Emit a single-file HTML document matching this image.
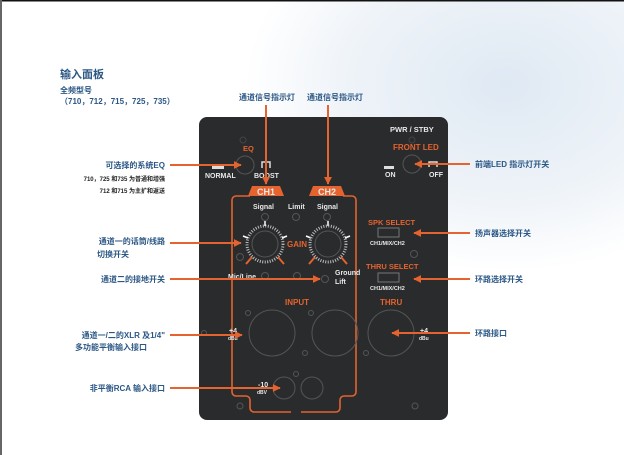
<!DOCTYPE html>
<html><head><meta charset="utf-8"><style>
html,body{margin:0;padding:0;background:#fff}
svg{display:block}
.cn{font-family:"Liberation Sans","Noto Sans CJK SC",sans-serif;font-weight:bold;fill:#2b5785}
.w{font-family:"Liberation Sans",sans-serif;fill:#e8e8e8;font-weight:bold}
.o{font-family:"Liberation Sans",sans-serif;fill:#e4632e;font-weight:bold}
</style></head><body>
<svg width="624" height="455" viewBox="0 0 624 455" xmlns="http://www.w3.org/2000/svg">
<defs>
<radialGradient id="bg" cx="0.75" cy="0.25" r="0.55">
<stop offset="0" stop-color="#dfe9f3"/><stop offset="0.6" stop-color="#eef3f8"/><stop offset="1" stop-color="#ffffff"/>
</radialGradient>
<marker id="ar" viewBox="0 0 10 10" refX="9" refY="5" markerWidth="4" markerHeight="4" orient="auto"><path d="M0,0L10,5L0,10z" fill="#e4632e"/></marker>
</defs>
<rect width="624" height="455" fill="#fff"/>
<rect x="150" y="0" width="474" height="340" fill="url(#bg)"/>
<rect x="0" y="0" width="624" height="1.5" fill="#111"/>
<rect x="0" y="0" width="2" height="455" fill="#666"/>

<text x="60" y="78" class="cn" font-size="11">输入面板</text>
<text x="60" y="93" class="cn" font-size="8">全频型号</text>
<text x="60" y="104" class="cn" font-size="8">（710，712，715，725，735）</text>
<text x="239" y="100" class="cn" font-size="8">通道信号指示灯</text>
<text x="307" y="100" class="cn" font-size="8">通道信号指示灯</text>

<rect x="199" y="117" width="249" height="303" rx="8" fill="#2a2b2d"/>

<g fill="none" stroke="#e4632e" stroke-width="1.6">
<path d="M250,196 H236 a4,4 0 0 0 -4,4 V392 a4,4 0 0 0 4,4 H246 a4,4 0 0 1 4,4 V408 a4,4 0 0 0 4,4 H291"/>
<path d="M343,196 H352 a4,4 0 0 1 4,4 V392 a4,4 0 0 1 -4,4 H344 a4,4 0 0 0 -4,4 V408 a4,4 0 0 1 -4,4 H301"/>
</g>
<path d="M252,186 H280 L284,196 H248 Z" fill="#e4632e"/>
<path d="M313,186 H341 L345,196 H309 Z" fill="#e4632e"/>
<text x="266" y="195" class="w" font-size="9" text-anchor="middle" fill="#fff">CH1</text>
<text x="327" y="195" class="w" font-size="9" text-anchor="middle" fill="#fff">CH2</text>

<text x="390" y="132" class="w" font-size="7.5">PWR / STBY</text>
<text x="243" y="151" class="o" font-size="7.5">EQ</text>
<circle cx="243" cy="140" r="3" fill="none" stroke="#444"/>
<circle cx="245" cy="165" r="9" fill="none" stroke="#555"/>
<text x="205" y="178" class="w" font-size="7">NORMAL</text>
<rect x="212" y="166" width="12" height="3" fill="#ddd"/>
<text x="254" y="178" class="w" font-size="7">BOOST</text>
<path d="M262,168 v-6 h8 v6" fill="none" stroke="#ddd" stroke-width="1.5"/>

<text x="393" y="150" class="o" font-size="8">FRONT LED</text>
<circle cx="412" cy="140" r="3" fill="none" stroke="#444"/>
<circle cx="412" cy="164" r="9" fill="none" stroke="#555"/>
<rect x="384" y="166" width="10" height="3" fill="#ddd"/>
<text x="385" y="177" class="w" font-size="7">ON</text>
<path d="M429,167 v-5 h8 v5" fill="none" stroke="#ddd" stroke-width="1.5"/>
<text x="429" y="177" class="w" font-size="7">OFF</text>

<text x="253" y="209" class="w" font-size="7">Signal</text>
<text x="288" y="209" class="w" font-size="7">Limit</text>
<text x="317" y="209" class="w" font-size="7">Signal</text>
<g fill="none" stroke="#555"><circle cx="265" cy="217" r="3.5"/><circle cx="296" cy="217" r="3.5"/><circle cx="327" cy="217" r="3.5"/></g>

<circle cx="265" cy="244" r="13" fill="none" stroke="#555"/>
<circle cx="265" cy="244" r="18" fill="none" stroke="#bbb" stroke-width="3" stroke-dasharray="1 1.5"/>
<g stroke="#e4632e" stroke-width="2"><line x1="252" y1="257" x2="246" y2="264"/><line x1="278" y1="257" x2="284" y2="264"/><line x1="315" y1="257" x2="309" y2="264"/><line x1="341" y1="257" x2="347" y2="264"/></g>
<g stroke="#fff" stroke-width="1.5"><line x1="265" y1="226" x2="265" y2="221"/><line x1="248" y1="238" x2="243" y2="236"/><line x1="282" y1="238" x2="287" y2="236"/><line x1="328" y1="226" x2="328" y2="221"/><line x1="311" y1="238" x2="306" y2="236"/><line x1="345" y1="238" x2="350" y2="236"/></g>
<circle cx="328" cy="244" r="13" fill="none" stroke="#555"/>
<circle cx="328" cy="244" r="18" fill="none" stroke="#bbb" stroke-width="3" stroke-dasharray="1 1.5"/>
<text x="287" y="247" class="o" font-size="8">GAIN</text>
<circle cx="240" cy="257" r="3.5" fill="none" stroke="#555"/>

<text x="228" y="279" class="w" font-size="7">Mic/Line</text>
<circle cx="265" cy="276" r="3.5" fill="none" stroke="#555"/>
<circle cx="297" cy="276" r="3.5" fill="none" stroke="#555"/>
<circle cx="325" cy="279" r="3.5" fill="none" stroke="#555"/>
<text x="335" y="275" class="w" font-size="7">Ground</text>
<text x="335" y="284" class="w" font-size="7">Lift</text>

<text x="368" y="225" class="o" font-size="7.5">SPK SELECT</text>
<rect x="378" y="228" width="21" height="9" fill="none" stroke="#777"/>
<text x="370" y="245" class="w" font-size="5.5">CH1/MIX/CH2</text>
<circle cx="414" cy="254" r="3.5" fill="none" stroke="#555"/>
<text x="366" y="269" class="o" font-size="7.5">THRU SELECT</text>
<rect x="378" y="273" width="21" height="9" fill="none" stroke="#777"/>
<text x="370" y="290" class="w" font-size="5.5">CH1/MIX/CH2</text>

<text x="285" y="305" class="o" font-size="8">INPUT</text>
<text x="380" y="305" class="o" font-size="8">THRU</text>
<g fill="none" stroke="#555">
<circle cx="272" cy="333" r="23"/><circle cx="335" cy="333" r="23"/><circle cx="391" cy="333" r="23"/>
<circle cx="248" cy="313" r="2.5"/><circle cx="305" cy="353" r="2.5"/><circle cx="311" cy="313" r="2.5"/><circle cx="366" cy="353" r="2.5"/>
<circle cx="204" cy="333" r="2.5"/><circle cx="296" cy="374" r="2.5"/>
<circle cx="284" cy="388" r="11"/><circle cx="312" cy="388" r="11"/>
<circle cx="240" cy="406" r="3"/><circle cx="415" cy="406" r="3"/>
</g>
<text x="229" y="333" class="w" font-size="7">+4</text><text x="228" y="340" class="w" font-size="5">dBu</text>
<text x="420" y="333" class="w" font-size="7">+4</text><text x="419" y="340" class="w" font-size="5">dBu</text>
<text x="258" y="387" class="w" font-size="7">-10</text><text x="257" y="394" class="w" font-size="5">dBV</text>

<g stroke="#e4632e" stroke-width="2" marker-end="url(#ar)" fill="none">
<line x1="266" y1="105" x2="266" y2="184"/>
<line x1="328" y1="105" x2="328" y2="184"/>
<line x1="170" y1="165" x2="241" y2="165"/>
<line x1="170" y1="243" x2="241" y2="243"/>
<line x1="170" y1="279" x2="320" y2="279"/>
<line x1="170" y1="335" x2="242" y2="335"/>
<line x1="170" y1="388" x2="280" y2="388"/>
<line x1="470" y1="164" x2="415" y2="164"/>
<line x1="470" y1="233" x2="414" y2="233"/>
<line x1="470" y1="279" x2="414" y2="279"/>
<line x1="470" y1="333" x2="392" y2="333"/>
</g>

<g class="cn" font-size="8">
<text x="165" y="168" text-anchor="end">可选择的系统EQ</text>
<text x="165" y="244" text-anchor="end">通道一的话筒/线路</text>
<text x="97" y="257">切换开关</text>
<text x="165" y="282" text-anchor="end">通道二的接地开关</text>
<text x="165" y="338" text-anchor="end">通道一/二的XLR 及1/4"</text>
<text x="75" y="350">多功能平衡输入接口</text>
<text x="165" y="391" text-anchor="end">非平衡RCA 输入接口</text>
<text x="475" y="167">前端LED 指示灯开关</text>
<text x="475" y="236">扬声器选择开关</text>
<text x="475" y="282">环路选择开关</text>
<text x="475" y="336">环路接口</text>
</g>
<g font-family="Liberation Sans,Noto Sans CJK SC,sans-serif" font-size="6" font-weight="bold" fill="#222" text-anchor="end">
<text x="165" y="181">710，725 和735 为普通和增强</text>
<text x="165" y="193">712 和715 为主扩和返送</text>
</g>
</svg>
</body></html>
